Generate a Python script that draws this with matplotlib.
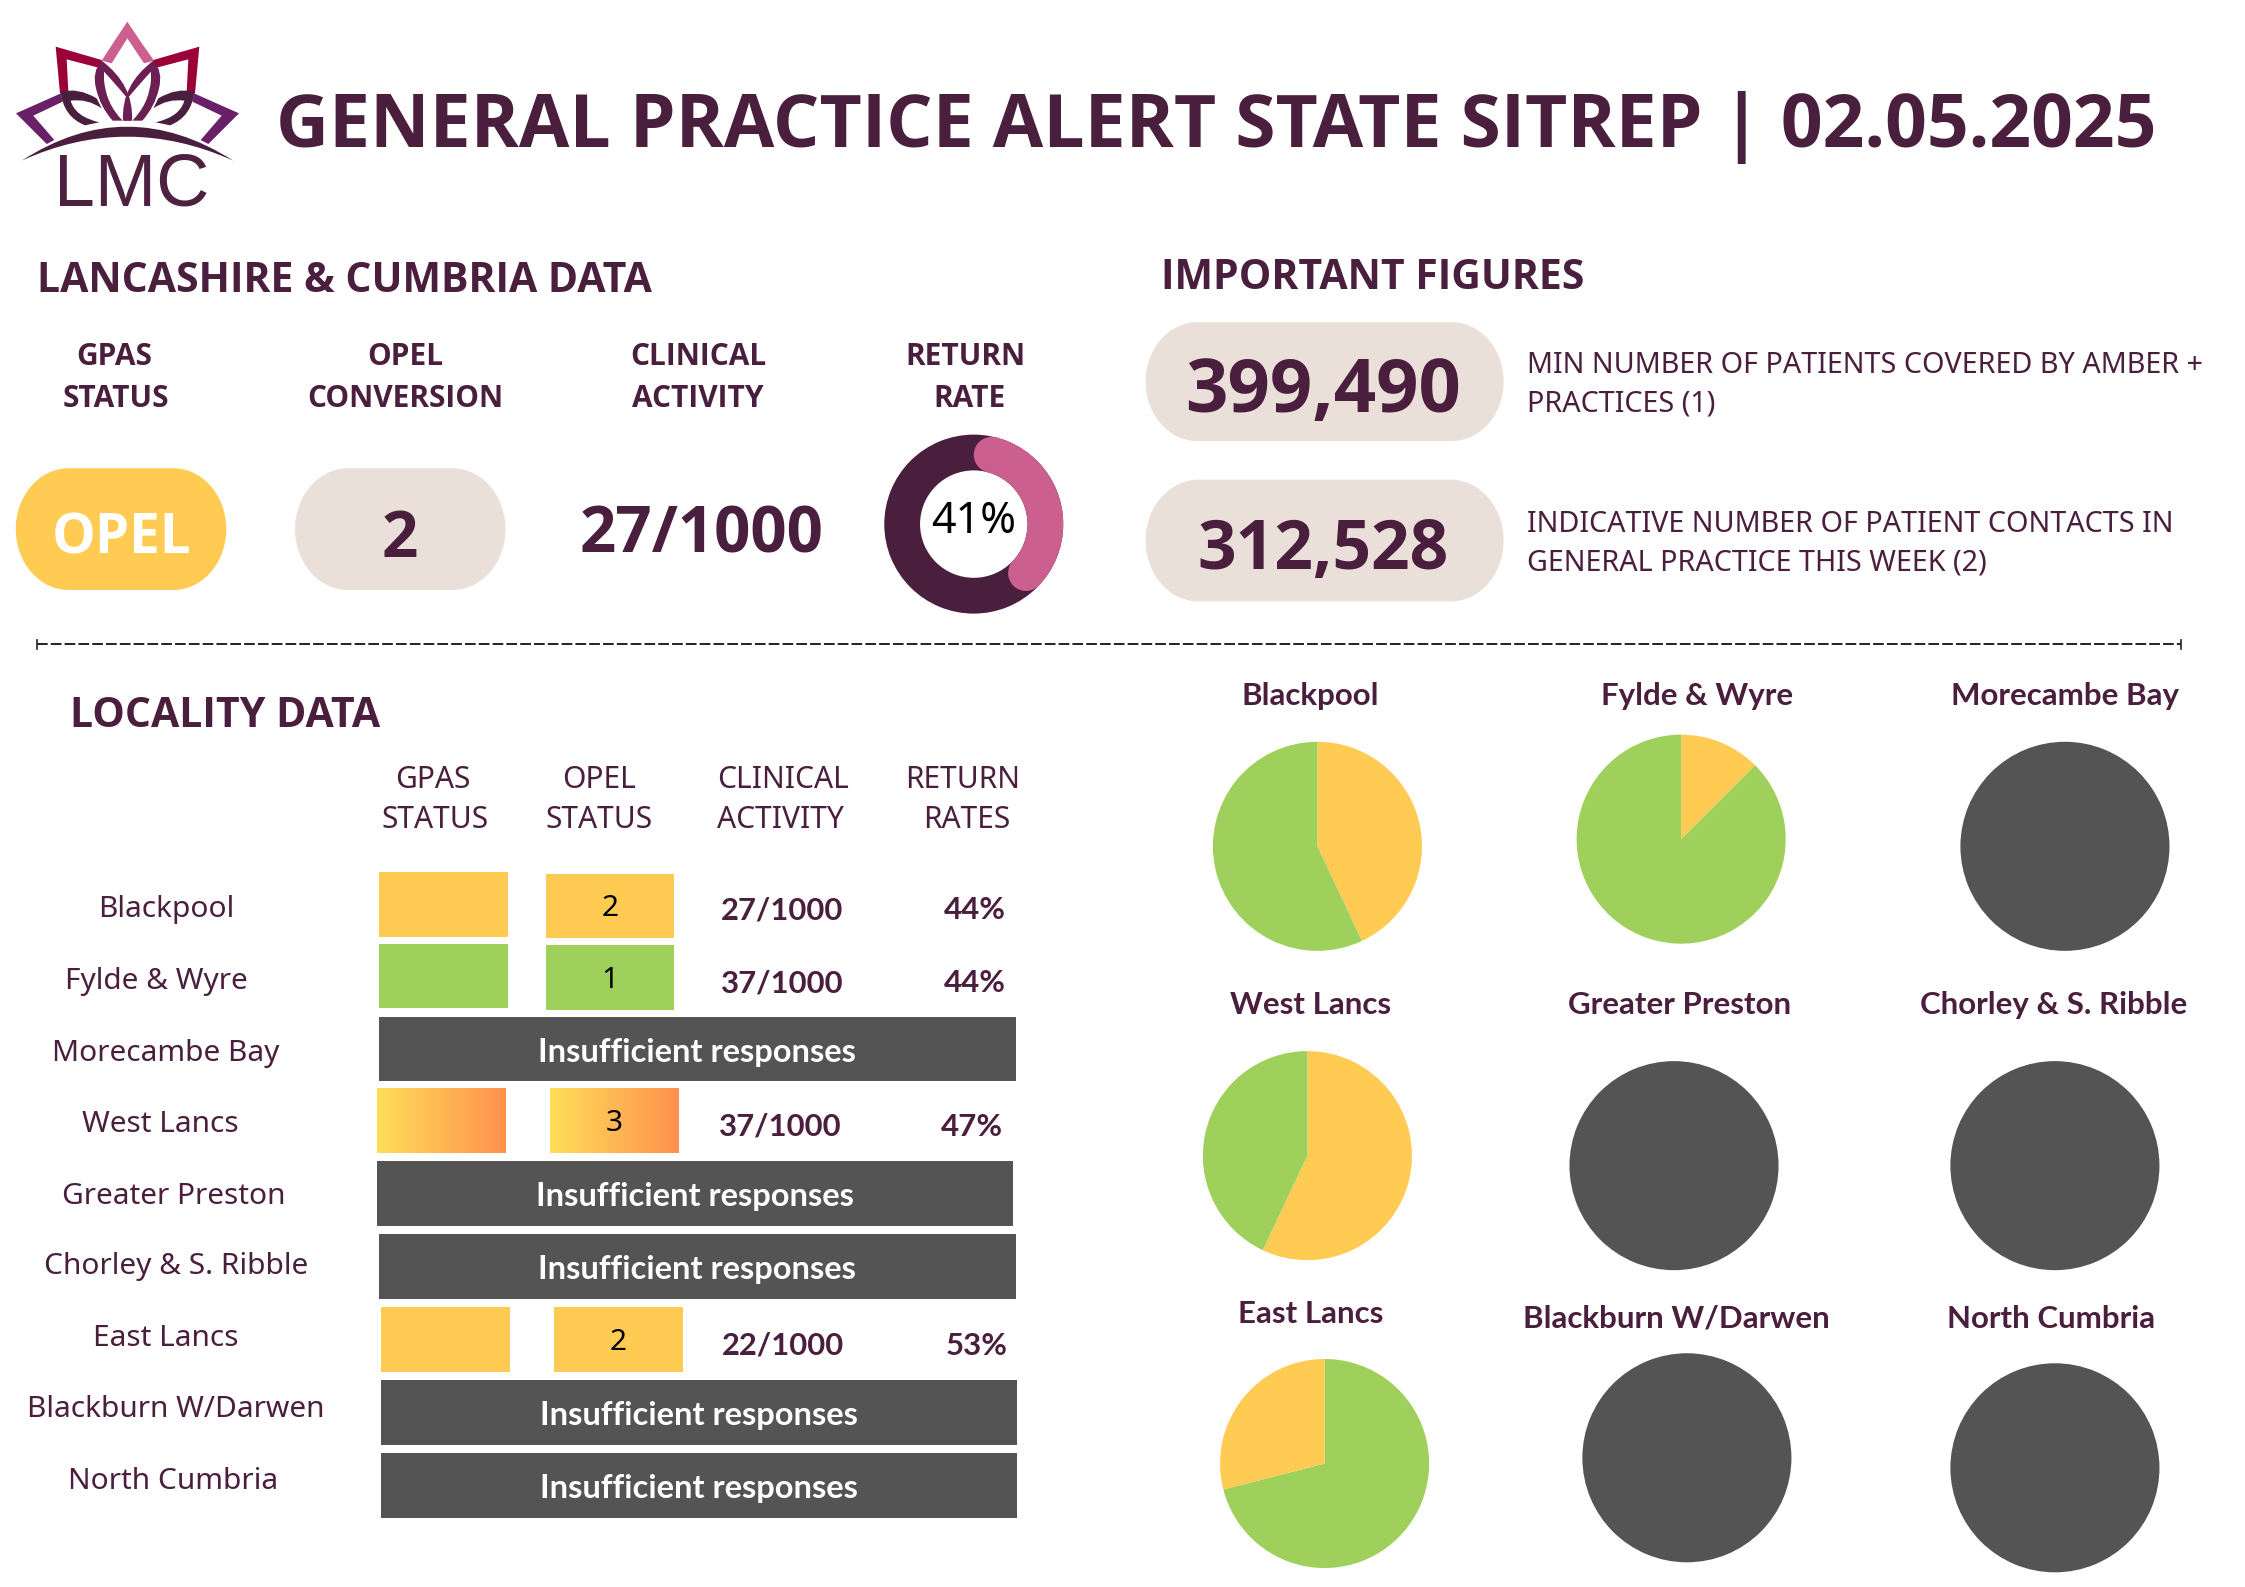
import matplotlib
matplotlib.use("Agg")
import numpy as np
import matplotlib.pyplot as plt
from matplotlib.patches import Polygon, Rectangle, PathPatch, Circle, Wedge
from matplotlib.path import Path

# ---------- data ----------
title = "GENERAL PRACTICE ALERT STATE SITREP | 02.05.2025"
headline_gpas = "OPEL"
headline_opel = "2"
headline_activity = "27/1000"
headline_return = 41
fig_patients = "399,490"
fig_contacts = "312,528"
localities = ["Blackpool", "Fylde & Wyre", "Morecambe Bay", "West Lancs", "Greater Preston",
              "Chorley & S. Ribble", "East Lancs", "Blackburn W/Darwen", "North Cumbria"]
pie_titles = ["Blackpool", "Fylde & Wyre", "Morecambe Bay", "West Lancs", "Greater Preston",
              "Chorley & S. Ribble", "East Lancs", "Blackburn W/Darwen", "North Cumbria"]
status = ["amber", "green", None, "grad", None, None, "amber", None, None]
opel_vals = ["2", "1", None, "3", None, None, "2", None, None]
activity = ["27/1000", "37/1000", None, "37/1000", None, None, "22/1000", None, None]
returns = ["44%", "44%", None, "47%", None, None, "53%", None, None]
# pie shares, clockwise from 12 o'clock
pie_amber = [43, 12.5, None, 57, None, None, 29, None, None]
pie_green = [57, 87.5, None, 43, None, None, 71, None, None]
pie_first = ["amber", "amber", None, "amber", None, None, "green", None, None]

# ---------- style ----------
INK = "#4a1f3d"
PILL = "#ebdfda"
AMBER = "#ffcb52"
GREEN = "#a0d05c"
GREY = "#545454"
PINK = "#cb6090"
F = "Noto Sans"
FB = "Open Sans"
FT = "Lato"
W, H = 2245 / 1.432, 1587 / 1.432

fig = plt.figure(figsize=(22.45, 15.87), dpi=100, facecolor="white")
ax = fig.add_axes([0, 0, 1, 1])
ax.set_xlim(0, W); ax.set_ylim(H, 0); ax.axis("off")


def T(x, y, s, size, weight="normal", color=INK, ha="center", family=None, **kw):
    if family is None:
        family = FB if weight == "bold" else F
    ax.text(x, y, s, fontsize=size, fontweight=weight, color=color, ha=ha, va="center_baseline",
            family=family, zorder=6, **kw)


def pill(x0, x1, y0, y1, color):
    ry = (y1 - y0) / 2
    rx = 0.87 * ry
    th = np.linspace(0, np.pi / 2, 40)
    pts = []
    for cx, cy, a in [(x1 - rx, y0 + ry, -np.pi / 2), (x1 - rx, y1 - ry, 0),
                      (x0 + rx, y1 - ry, np.pi / 2), (x0 + rx, y0 + ry, np.pi)]:
        for t in th + a:
            pts.append((cx + rx * np.cos(t), cy + ry * np.sin(t)))
    ax.add_patch(Polygon(pts, closed=True, fc=color, ec="none", zorder=2))


# ---------- logo (drawn in 3x-zoom pixel units) ----------
def logo_patch(verts, codes, color):
    pts = [(x / 3 / 1.432, y / 3 / 1.432) for x, y in verts]
    ax.add_patch(PathPatch(Path(pts, codes), fc=color, ec="none", zorder=3))


def mirror(v):
    return [(765 - x, y) for x, y in v]


M, L, Q = Path.MOVETO, Path.LINETO, Path.CURVE3

v = [(382, 65), (422, 125), (462, 182), (432, 190), (382, 115), (335, 190), (305, 182), (342, 125), (382, 65)]
logo_patch(v, [M, L, L, L, L, L, L, L, L], PINK)
v = [(167, 140), (305, 180), (303, 205), (200, 178), (205, 275), (180, 280), (167, 140)]
c = [M, L, L, L, L, L, L]
logo_patch(v, c, "#9b0038"); logo_patch(mirror(v), c, "#9b0038")
v = [(48, 340), (183, 280), (188, 305), (100, 347), (163, 420), (140, 432), (48, 340)]
c = [M, L, L, L, L, L, L]
logo_patch(v, c, "#6a2069"); logo_patch(mirror(v), c, "#6a2069")
v = [(182, 275), (235, 262), (290, 295), (305, 325), (262, 295), (212, 302), (225, 350), (298, 367),
     (255, 376), (190, 350), (182, 275)]
c = [M, Q, Q, L, Q, Q, Q, Q, L, Q, Q]
logo_patch(v, c, "#4a1f3d"); logo_patch(mirror(v), c, "#4a1f3d")
v = [(305, 182), (275, 215), (288, 265), (300, 320), (338, 362), (368, 362),
     (318, 312), (312, 240), (312, 215), (345, 250), (378, 290), (372, 362), (396, 362),
     (402, 255), (305, 182)]
c = [M, Q, Q, Q, Q, L, Q, Q, L, Q, Q, L, L, Q, Q]
logo_patch(v, c, "#6b1f52"); logo_patch(mirror(v), c, "#6b1f52")
v = [(65, 482), (380, 278), (700, 482), (380, 338), (65, 482)]
logo_patch(v, [M, Q, Q, Q, Q], "#4a1f3d")
T(92, 125, "LMC", 53, family="Liberation Sans", color="#4e2140")

# ---------- header ----------
T(193, 83, title, 52.7, "bold", ha="left")
T(26, 193, "LANCASHIRE & CUMBRIA DATA", 29.5, "bold", ha="left")
T(811, 191, "IMPORTANT FIGURES", 29.5, "bold", ha="left")
for x, y, s in [(80, 247, "GPAS"), (81, 276, "STATUS"), (283, 247, "OPEL"), (283, 276, "CONVERSION"),
                (488, 247, "CLINICAL"), (487, 276, "ACTIVITY"), (674, 247, "RETURN"), (677, 276, "RATE")]:
    T(x, y, s, 21.5, "bold")

pill(11, 158, 327, 412, AMBER)
T(85, 372, headline_gpas, 39.5, "bold", color="white")
pill(206, 353, 327, 412, PILL)
T(279, 372, headline_opel, 46, "bold")
T(490, 369, headline_activity, 45.8, "bold")

# donut
dcx, dcy, dr = 680, 366, 62.5
dax = fig.add_axes([(dcx - dr) / W, 1 - (dcy + dr) / H, 2 * dr / W, 2 * dr / H])
dax.pie([100], colors=[INK], radius=1, startangle=90, wedgeprops=dict(width=0.4))
dax.set_xlim(-1, 1); dax.set_ylim(-1, 1); dax.axis("off")
span = headline_return / 100 * 360
mid = 0.8
cap = np.degrees(np.arcsin(0.2 / mid))
dax.add_patch(Wedge((0, 0), 1, 90 - span + cap, 90 - cap, width=0.4, fc=PINK, ec="none", zorder=4))
for a in (cap, span - cap):
    dax.add_patch(Circle((mid * np.sin(np.radians(a)), mid * np.cos(np.radians(a))), 0.2, fc=PINK, ec="none", zorder=4))
dax.text(0, 0.02, f"{headline_return}%", fontsize=31, color="black", ha="center", va="center", family=F, zorder=6)

pill(800, 1050, 225, 308, PILL)
T(924, 268, fig_patients, 53.5, "bold")
pill(800, 1050, 335, 420, PILL)
T(924, 379, fig_contacts, 48.7, "bold")
for y, s in [(253, "MIN NUMBER OF PATIENTS COVERED BY AMBER +"), (280, "PRACTICES (1)"),
             (364, "INDICATIVE NUMBER OF PATIENT CONTACTS IN"), (391, "GENERAL PRACTICE THIS WEEK (2)")]:
    T(1066, y, s, 20.7, ha="left")

# divider
ax.plot([26, 1523], [450, 450], color="#222222", lw=1.4, linestyle=(0, (5.5, 1.6)), zorder=3)
for x in (26, 1523):
    ax.plot([x, x], [447, 453], color="#222222", lw=1.2, zorder=3)

# ---------- locality table ----------
T(49, 497, "LOCALITY DATA", 29.5, "bold", ha="left")
for x, y, s in [(302, 542, "GPAS"), (304, 570, "STATUS"), (418, 542, "OPEL"), (418, 570, "STATUS"),
                (547, 542, "CLINICAL"), (545, 570, "ACTIVITY"), (672, 542, "RETURN"), (675, 570, "RATES")]:
    T(x, y, s, 21.6)

name_x = [116, 109, 116, 112, 121, 123, 116, 123, 121]
name_y = [633, 683, 733, 783, 833, 882, 932, 982, 1032]
g_x0 = [265, 265, None, 263, None, None, 266, None, None]
g_y0 = [609, 659, None, 760, None, None, 913, None, None]
o_x0 = [381, 381, None, 384, None, None, 387, None, None]
o_y0 = [610, 660, None, 760, None, None, 913, None, None]
a_xy = [(546, 634), (546, 685), None, (545, 785), None, None, (547, 938), None, None]
r_xy = [(681, 634), (681, 685), None, (679, 785), None, None, (682, 938), None, None]
grey_x0 = [None, None, 265, None, 263, 265, None, 266, 266]
grey_y0 = [None, None, 710, None, 811, 862, None, 964, 1015]
grad = np.linspace(0, 1, 256).reshape(1, -1)
cmap = matplotlib.colors.LinearSegmentedColormap.from_list("g", ["#ffde59", "#ff914d"])
fills = {"amber": AMBER, "green": GREEN}


def box(x0, y0, kind):
    if kind == "grad":
        ax.imshow(grad, extent=(x0, x0 + 90, y0 + 45, y0), aspect="auto", cmap=cmap, zorder=2)
    else:
        ax.add_patch(Rectangle((x0, y0), 90, 45, fc=fills[kind], ec="none", zorder=2))


for i, name in enumerate(localities):
    T(name_x[i], name_y[i], name, 21.5)
    if status[i] is None:
        ax.add_patch(Rectangle((grey_x0[i], grey_y0[i]), 444.5, 45, fc=GREY, ec="none", zorder=2))
        T(grey_x0[i] + 222, grey_y0[i] + 23, "Insufficient responses", 23.5, "bold", color="white", family=FT)
    else:
        box(g_x0[i], g_y0[i], status[i])
        box(o_x0[i], o_y0[i], status[i])
        T(o_x0[i] + 45, o_y0[i] + 22, opel_vals[i], 21.5, color="black")
        T(a_xy[i][0], a_xy[i][1], activity[i], 22.3, "bold", family=FT)
        T(r_xy[i][0], r_xy[i][1], returns[i], 22.5, "bold", family=FT)
ax.set_xlim(0, W); ax.set_ylim(H, 0)

# ---------- pies ----------
pie_cx = [920, 1174, 1442, 913, 1169, 1435, 925, 1178, 1435]
pie_cy = [591, 586, 591, 807, 814, 814, 1022, 1018, 1025]
title_xy = [(915, 484), (1185, 484), (1442, 484), (915, 700), (1173, 700), (1434, 700),
            (915, 916), (1171, 919), (1432, 919)]
R = 73
for i, t in enumerate(pie_titles):
    T(title_xy[i][0], title_xy[i][1], t, 22.5, "bold", family=FT)
    pax = fig.add_axes([(pie_cx[i] - R) / W, 1 - (pie_cy[i] + R) / H, 2 * R / W, 2 * R / H])
    if pie_amber[i] is None:
        pax.pie([100], colors=[GREY], radius=1, startangle=90)
    else:
        if pie_first[i] == "amber":
            vals, cols = [pie_amber[i], pie_green[i]], [AMBER, GREEN]
        else:
            vals, cols = [pie_green[i], pie_amber[i]], [GREEN, AMBER]
        pax.pie(vals, colors=cols, radius=1, startangle=90, counterclock=False)
    pax.set_xlim(-1, 1); pax.set_ylim(-1, 1); pax.axis("off")

fig.savefig("out.png", dpi=100, facecolor="white")
